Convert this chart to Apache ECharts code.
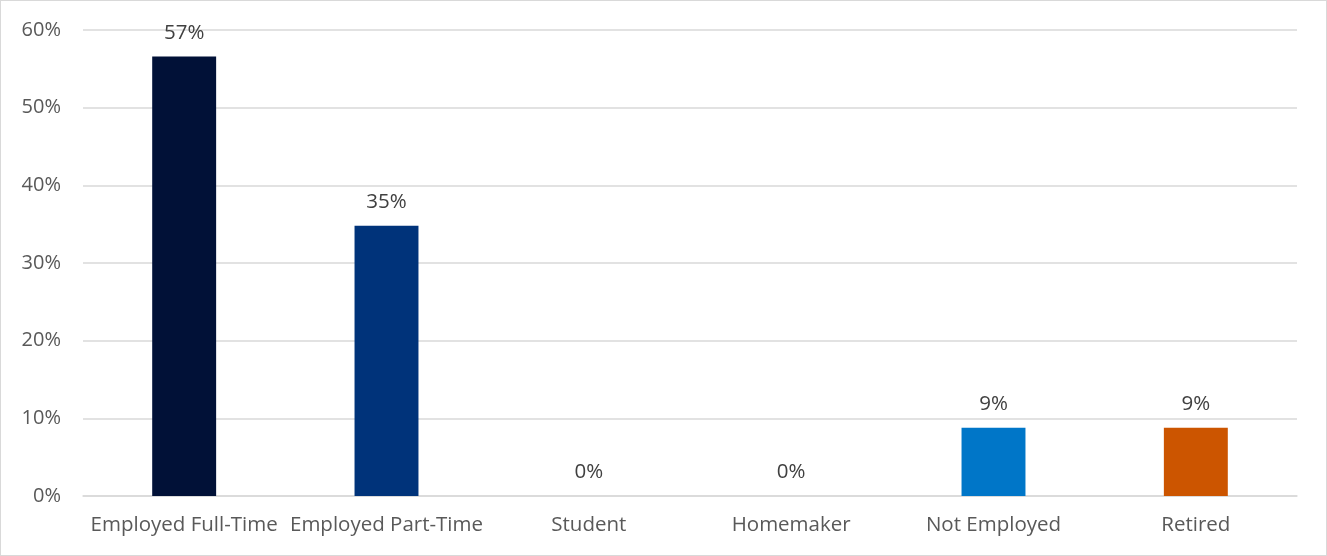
<!DOCTYPE html>
<html><head><meta charset="utf-8">
<script src="https://cdn.jsdelivr.net/npm/echarts@6/dist/echarts.min.js"></script>
<style>html,body{margin:0;padding:0;background:#fff}#c{width:1325px;height:554px;border:1px solid #d9d9d9}</style>
</head><body><div id="c"></div>
<script>
const categories = ["Employed Full-Time","Employed Part-Time","Student","Homemaker","Not Employed","Retired"];
const values = [56.6, 34.8, 0, 0, 8.8, 8.8];
const labels = ["57%","35%","0%","0%","9%","9%"];
const colors = ["#011137","#00337A","#0076C8","#0076C8","#0076C8","#CC5500"];
const yTicks = [0,10,20,30,40,50,60];
const font = "'Open Sans', sans-serif";
const chart = echarts.init(document.getElementById('c'));
chart.setOption({
  animation:false,
  grid:{left:82,right:29,top:29,bottom:59},
  xAxis:{type:'category',data:categories,
    axisLine:{lineStyle:{color:'#d9d9d9',width:1.5}},axisTick:{show:false},
    axisLabel:{color:'#595959',fontSize:20.5,fontFamily:font,margin:19,interval:0}},
  yAxis:{type:'value',min:0,max:60,interval:10,
    axisLabel:{formatter:v=>v+'%',color:'#595959',fontSize:20,fontFamily:font,margin:22},
    splitLine:{lineStyle:{color:'#d9d9d9',width:1.5}},axisLine:{show:false},axisTick:{show:false}},
  series:[{type:'bar',barWidth:'31.6%',
    data:values.map((v,i)=>({value:v,itemStyle:{color:colors[i]},label:{formatter:labels[i]}})),
    label:{show:true,position:'top',distance:13,color:'#404040',fontSize:20.5,fontFamily:font}}]
});
</script></body></html>
